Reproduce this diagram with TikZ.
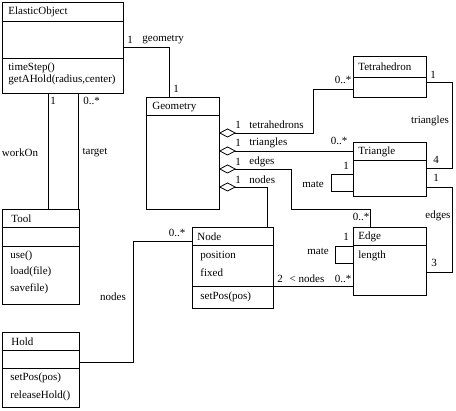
\documentclass[tikz,border=0pt]{standalone}
\usepackage{fontspec}
\setmainfont{Liberation Serif}
\usepackage{tikz}
\usetikzlibrary{arrows.meta}
\usetikzlibrary{positioning}
\tikzset{cls/.style = {draw, anchor=north west, inner sep=0, outer sep=0}}
\tikzset{txt/.style = {anchor=west, inner sep=0}}
\tikzset{lbl/.style = {inner sep=0}}
\tikzset{agg/.style = {{Diamond[open, length=17pt, width=9pt]}-}}

\begin{document}
\begin{tikzpicture}[x=1pt, y=-1pt, line width=0.8pt,
                    font=\fontsize{11}{13}\selectfont]
    \useasboundingbox (0,0) rectangle (456,411);

    % class boxes
    \node [cls, minimum width=121pt, minimum height=91pt] (elastic) at (2,2) {};
    \draw (elastic.west |- 0,21) -- (elastic.east |- 0,21);
    \draw (elastic.west |- 0,58) -- (elastic.east |- 0,58);
    \node [txt] (elastic-name) at (8,12) {ElasticObject};
    \node [txt] (elastic-op1) at (8,68) {timeStep()};
    \node [txt] (elastic-op2) at (8,80) {getAHold(radius,center)};

    \node [cls, minimum width=73pt, minimum height=112pt] (geometry) at (146,97) {};
    \draw (geometry.west |- 0,115) -- (geometry.east |- 0,115);
    \node [txt] (geometry-name) at (152,107) {Geometry};

    \node [cls, minimum width=73pt, minimum height=41pt] (tetra) at (353,56) {};
    \draw (tetra.west |- 0,77) -- (tetra.east |- 0,77);
    \node [txt] (tetra-name) at (358,67) {Tetrahedron};

    \node [cls, minimum width=73pt, minimum height=54pt] (triangle) at (353,142) {};
    \draw (triangle.west |- 0,160) -- (triangle.east |- 0,160);
    \node [txt] (triangle-name) at (358,152) {Triangle};

    \node [cls, minimum width=73pt, minimum height=68pt] (edge) at (353,227) {};
    \draw (edge.west |- 0,245) -- (edge.east |- 0,245);
    \node [txt] (edge-name) at (358,237) {Edge};
    \node [txt] (edge-att1) at (358,256) {length};

    \node [cls, minimum width=81pt, minimum height=81pt] (node) at (192,227) {};
    \draw (node.west |- 0,245) -- (node.east |- 0,245);
    \draw (node.west |- 0,286) -- (node.east |- 0,286);
    \node [txt] (node-name) at (197,237) {Node};
    \node [txt] (node-att1) at (200,256) {position};
    \node [txt] (node-att2) at (200,273) {fixed};
    \node [txt] (node-op1) at (200,297) {setPos(pos)};

    \node [cls, minimum width=77pt, minimum height=95pt] (tool) at (2,209) {};
    \draw (tool.west |- 0,227) -- (tool.east |- 0,227);
    \draw (tool.west |- 0,246) -- (tool.east |- 0,246);
    \node [txt] (tool-name) at (11,219) {Tool};
    \node [txt] (tool-op1) at (10,256) {use()};
    \node [txt] (tool-op2) at (10,272) {load(file)};
    \node [txt] (tool-op3) at (10,289) {savefile)};

    \node [cls, minimum width=77pt, minimum height=75pt] (hold) at (2,332) {};
    \draw (hold.west |- 0,350) -- (hold.east |- 0,350);
    \draw (hold.west |- 0,368) -- (hold.east |- 0,368);
    \node [txt] (hold-name) at (11,342) {Hold};
    \node [txt] (hold-op1) at (10,378) {setPos(pos)};
    \node [txt] (hold-op2) at (10,396) {releaseHold()};

    % associations
    \draw (elastic.east |- 0,47) -| (geometry.north -| 169,0);
    \draw (elastic.south -| 48,0) -- (tool.north -| 48,0);
    \draw (elastic.south -| 78,0) -- (tool.north -| 78,0);
    \draw [agg] (geometry.east |- 0,133) -| (313,89) -- (tetra.west |- 0,89);
    \draw [agg] (geometry.east |- 0,151) -- (triangle.west |- 0,151);
    \draw [agg] (geometry.east |- 0,169) -| (291,209) -| (edge.north -| 370,0);
    \draw [agg] (geometry.east |- 0,187) -| (node.north -| 267,0);
    \draw (triangle.west |- 0,174) -| (331,191) -- (triangle.west |- 0,191);
    \draw (edge.west |- 0,246) -| (335,263) -- (edge.west |- 0,263);
    \draw (tetra.east |- 0,82) -| (452,168) -- (triangle.east |- 0,168);
    \draw (triangle.east |- 0,187) -| (452,272) -- (edge.east |- 0,272);
    \draw (node.east |- 0,286) -- (edge.west |- 0,286);
    \draw (hold.east |- 0,362) -| (133,241) -- (node.west |- 0,241);

    % multiplicities and roles
    \node [lbl] (m-geo1) at (130,40) {1};
    \node [txt] (r-geo) at (142,40) {geometry};
    \node [lbl] (m-geo2) at (176,89) {1};
    \node [lbl] (m-work) at (53,101) {1};
    \node [txt] (m-target) at (83,101) {0..*};
    \node [lbl] (r-work) at (20,153) {workOn};
    \node [lbl] (r-target) at (95,153) {target};
    \node [lbl] (m-tet1) at (238,125) {1};
    \node [txt] (r-tet) at (249,125) {tetrahedrons};
    \node [lbl] (m-tet2) at (343,80) {0..*};
    \node [lbl] (m-tri1) at (238,143) {1};
    \node [txt] (r-tri) at (249,143) {triangles};
    \node [lbl] (m-tri2) at (339,141) {0..*};
    \node [lbl] (m-edg1) at (238,162) {1};
    \node [txt] (r-edg) at (249,162) {edges};
    \node [lbl] (m-edg2) at (361,217) {0..*};
    \node [lbl] (m-nod1) at (238,180) {1};
    \node [txt] (r-nod) at (249,180) {nodes};
    \node [lbl] (m-tmate) at (346,166) {1};
    \node [lbl] (r-tmate) at (313,184) {mate};
    \node [lbl] (m-emate) at (346,237) {1};
    \node [lbl] (r-emate) at (318,251) {mate};
    \node [lbl] (m-tt1) at (433,75) {1};
    \node [lbl] (r-tt) at (430,121) {triangles};
    \node [lbl] (m-tt2) at (436,160) {4};
    \node [lbl] (m-te1) at (436,178) {1};
    \node [lbl] (r-te) at (438,216) {edges};
    \node [lbl] (m-te2) at (434,263) {3};
    \node [lbl] (m-ne1) at (280,279) {2};
    \node [lbl] (r-ne) at (307,279) {< nodes};
    \node [lbl] (m-ne2) at (343,279) {0..*};
    \node [lbl] (m-hn) at (177,233) {0..*};
    \node [lbl] (r-hn) at (113,297) {nodes};
\end{tikzpicture}
\end{document}
